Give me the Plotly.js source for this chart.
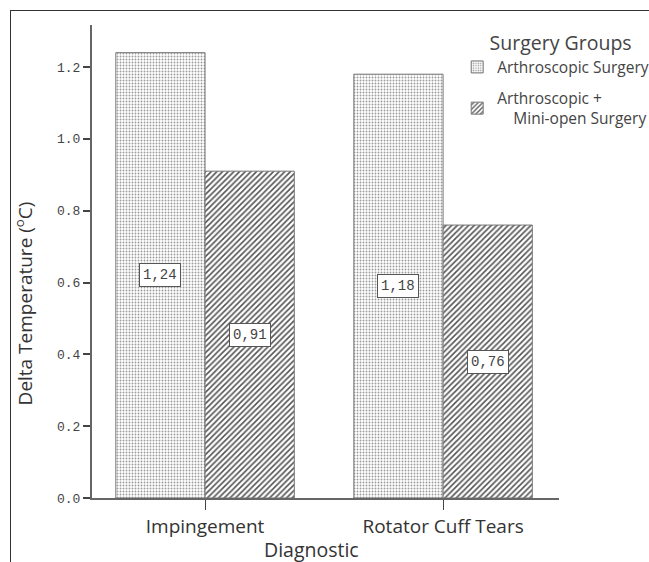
<!DOCTYPE html>
<html><head><meta charset="utf-8">
<script src="https://cdn.plot.ly/plotly-3.0.1.min.js"></script>
<style>
body{margin:0;background:#fff;}
#frame{position:absolute;left:10px;top:10px;width:639px;height:552px;border-left:1px solid #333;border-top:1px solid #333;}
#chart{position:absolute;left:0;top:0;width:649px;height:562px;}
</style></head>
<body>
<div id="frame"></div>
<div id="chart"></div>
<script>
const categories = ["Impingement", "Rotator Cuff Tears"];
const groups = ["Arthroscopic Surgery", "Arthroscopic +<br>&nbsp;&nbsp;&nbsp;&nbsp;Mini-open Surgery"];
const arthroscopic = [1.24, 1.18];
const miniOpen = [0.91, 0.76];
const yTicks = [0, 0.2, 0.4, 0.6, 0.8, 1.0, 1.2];

const seriesValues = [arthroscopic, miniOpen];
const patterns = [
  {shape: '.', size: 3, solidity: 0.3, fgcolor: '#9a9a9a', bgcolor: '#fff'},
  {shape: '/', size: 4, solidity: 0.4, fgcolor: '#555', bgcolor: '#fff'}
];
const bargap = 0.25;
const traces = seriesValues.map((vals, i) => ({
  type: 'bar', name: groups[i], x: categories, y: vals, legendgroup: 'g' + i,
  marker: {color: '#fff', pattern: patterns[i], line: {color: '#777', width: 1}},
  hoverinfo: 'skip'
}));

const barW = (1 - bargap) / seriesValues.length;
const annotations = [];
seriesValues.forEach((vals, i) => {
  vals.forEach((v, j) => {
    annotations.push({
      x: j - (1 - bargap) / 2 + barW * (i + 0.5), y: v / 2, xref: 'x', yref: 'y',
      text: v.toFixed(2).replace('.', ','), showarrow: false,
      font: {family: 'Liberation Mono, monospace', size: 14, color: '#444'},
      bgcolor: '#fff', bordercolor: '#555', borderwidth: 1, borderpad: 3
    });
  });
});

const sans = 'Open Sans, sans-serif';
annotations.push({
  text: 'Delta Temperature (<sup>o</sup>C)', textangle: -90, showarrow: false,
  xref: 'paper', yref: 'paper', x: -0.145, y: 0.412, xanchor: 'center', yanchor: 'middle',
  font: {family: sans, size: 19, color: '#333'}
});
annotations.push({
  text: 'Diagnostic', showarrow: false,
  xref: 'paper', yref: 'paper', x: 0.469, y: -0.108, xanchor: 'center', yanchor: 'middle',
  font: {family: sans, size: 19.5, color: '#333'}
});

const layout = {
  width: 649, height: 562,
  margin: {l: 92, r: 90, t: 25, b: 64, autoexpand: false},
  paper_bgcolor: 'rgba(0,0,0,0)', plot_bgcolor: 'rgba(0,0,0,0)',
  barmode: 'group', bargap: bargap, bargroupgap: 0,
  showlegend: true,
  legend: {
    x: 0.782, y: 1.0, xanchor: 'left', yanchor: 'top',
    title: {text: '&nbsp;&nbsp;&nbsp;&nbsp;&nbsp;&nbsp;Surgery Groups', font: {family: sans, size: 19.5, color: '#444'}, side: 'top'},
    font: {family: sans, size: 15.5, color: '#444'},
    bgcolor: 'rgba(0,0,0,0)', tracegroupgap: 8, itemwidth: 30
  },
  xaxis: {
    type: 'category', range: [-0.475, 1.487], automargin: false,
    showline: true, linecolor: '#666', linewidth: 2,
    ticks: 'outside', ticklen: 10, tickcolor: '#444', tickwidth: 1,
    tickfont: {family: sans, size: 19, color: '#333'},
    showgrid: false, zeroline: false
  },
  yaxis: {
    range: [0, 1.317], tickvals: yTicks, tickformat: '.1f', automargin: false,
    showline: true, linecolor: '#666', linewidth: 2,
    ticks: 'outside', ticklen: 7, tickcolor: '#444', tickwidth: 2,
    tickfont: {family: 'Liberation Mono, monospace', size: 13, color: '#444'},
    showgrid: false, zeroline: false
  },
  annotations: annotations
};

Plotly.newPlot('chart', traces, layout, {displayModeBar: false, staticPlot: true});
</script>
</body></html>
